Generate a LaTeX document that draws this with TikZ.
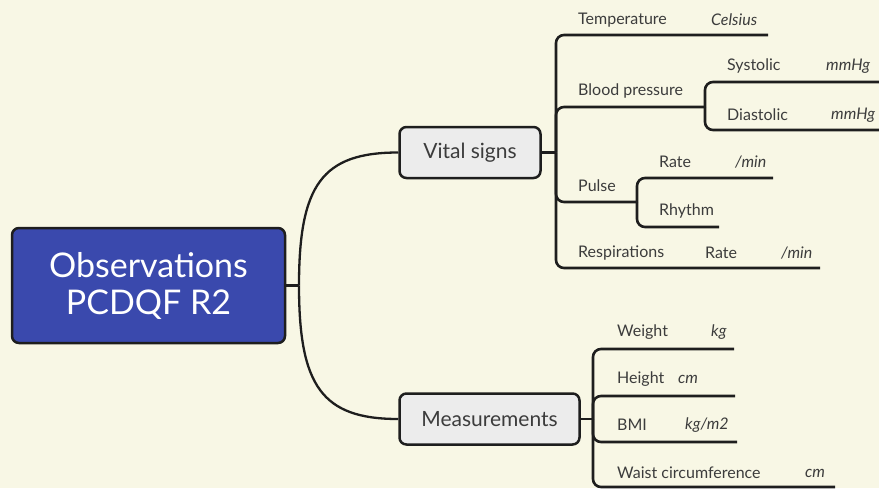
\documentclass[tikz,border=0pt]{standalone}
\usepackage{fontspec}
\setmainfont{Lato}
\definecolor{bg}{RGB}{248,247,229}
\definecolor{rootblue}{RGB}{58,73,173}
\definecolor{topicgray}{RGB}{236,236,236}
\definecolor{ink}{RGB}{30,30,30}
\definecolor{txt}{RGB}{60,60,60}
\begin{document}
\begin{tikzpicture}[x=1pt,y=-1pt,
  conn/.style={draw=ink,line width=2.6pt},
  branch/.style={conn,rounded corners=8pt},
  lbl/.style={anchor=west,inner sep=0pt,text=txt,font=\fontsize{16}{18}\selectfont},
  unit/.style={anchor=west,inner sep=0pt,text=txt,font=\fontsize{16}{18}\selectfont\itshape},
  topic/.style={draw=ink,line width=2.5pt,fill=topicgray,rounded corners=7pt,text=txt,
    font=\fontsize{21}{23}\selectfont,inner sep=0pt}]
\useasboundingbox (0,0) rectangle (879,488);
\fill[bg] (0,0) rectangle (879,488);

% central topic
\node[draw=ink,line width=2.5pt,fill=rootblue,rounded corners=7pt,text=white,
  minimum width=273pt,minimum height=115pt,inner sep=0pt,align=center,
  font=\fontsize{34}{37}\selectfont] (root) at (148.5,285.5) {Observations\\PCDQF R2};

% main topics
\node[topic,minimum width=141pt,minimum height=51pt] (vs) at (470,152.5) {Vital signs};
\node[topic,minimum width=180pt,minimum height=51pt] (ms) at (489.5,419) {Measurements};

% curved connectors from the central topic
\draw[draw=ink,line width=2.3pt] (root.east) -- (299,285.5) coordinate (rj);
\draw[draw=ink,line width=2.3pt] (rj) .. controls (299,185) and (322,152.5) .. (vs.west);
\draw[draw=ink,line width=2.3pt] (rj) .. controls (299,386) and (322,419) .. (ms.west);

% ---- Vital signs branch ----
\coordinate (vj) at (556,152.5);
\draw[conn] (vs.east) -- (vj);
\coordinate (tempEnd) at (768,35);
\coordinate (bpEnd) at (705,107);
\coordinate (pulseEnd) at (637,202);
\coordinate (respEnd) at (820,268);
\draw[branch] (vj) -- (556,35) -- (tempEnd);
\draw[branch] (vj) -- (556,107) -- (bpEnd);
\draw[branch] (vj) -- (556,202) -- (pulseEnd);
\draw[branch] (vj) -- (556,268) -- (respEnd);

\node[lbl] (temp) at (578,20) {Temperature};
\node[unit] (tempU) at (711,20) {Celsius};
\node[lbl] (bp) at (578,91) {Blood pressure};
\node[lbl] (pulse) at (578,186) {Pulse};
\node[lbl] (resp) at (578,253) {Respirations};
\node[lbl] (respR) at (705,253) {Rate};
\node[unit] (respU) at (781,253) {/min};

% blood pressure children
\coordinate (sysEnd) at (890,82);
\coordinate (diaEnd) at (890,130);
\draw[branch] (bpEnd) -- (705,82) -- (sysEnd);
\draw[branch] (bpEnd) -- (705,130) -- (diaEnd);
\node[lbl] (sys) at (727,66) {Systolic};
\node[unit] (sysU) at (826,66) {mmHg};
\node[lbl] (dia) at (727,115) {Diastolic};
\node[unit] (diaU) at (831,115) {mmHg};

% pulse children
\coordinate (rateEnd) at (773,178);
\coordinate (rhyEnd) at (719,227);
\draw[branch] (pulseEnd) -- (637,178) -- (rateEnd);
\draw[branch] (pulseEnd) -- (637,227) -- (rhyEnd);
\node[lbl] (rate) at (659,162) {Rate};
\node[unit] (rateU) at (735,162) {/min};
\node[lbl] (rhy) at (659,211) {Rhythm};

% ---- Measurements branch ----
\coordinate (mj) at (593,419);
\draw[conn] (ms.east) -- (mj);
\coordinate (wEnd) at (734,349);
\coordinate (hEnd) at (735,396);
\coordinate (bmiEnd) at (737,442);
\coordinate (waistEnd) at (835,487);
\draw[branch] (mj) -- (593,349) -- (wEnd);
\draw[branch] (mj) -- (593,396) -- (hEnd);
\draw[branch] (mj) -- (593,442) -- (bmiEnd);
\draw[branch] (mj) -- (593,487) -- (waistEnd);

\node[lbl] (w) at (617,332) {Weight};
\node[unit] (wU) at (711,332) {kg};
\node[lbl] (h) at (617,379) {Height};
\node[unit] (hU) at (678,379) {cm};
\node[lbl] (bmi) at (617,425) {BMI};
\node[unit] (bmiU) at (685,425) {kg/m2};
\node[lbl] (waist) at (617,473) {Waist circumference};
\node[unit] (waistU) at (805,473) {cm};
\end{tikzpicture}
\end{document}
